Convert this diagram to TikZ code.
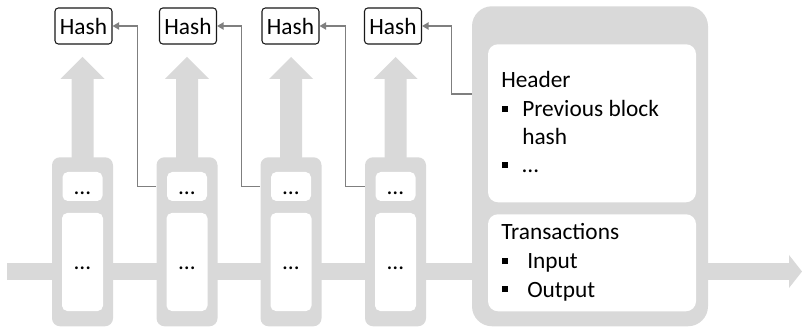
\documentclass[tikz,border=0pt]{standalone}
\usepackage{fontspec}
\setmainfont{Carlito}
\usetikzlibrary{arrows.meta}
\definecolor{blk}{HTML}{D9D9D9}
\definecolor{connc}{HTML}{7F7F7F}
\newcommand{\bul}{\rule[3.6pt]{4.5pt}{4.5pt}}
\begin{document}
\begin{tikzpicture}[x=0.75pt,y=-0.75pt,
  every node/.style={font=\fontsize{17.5}{21}\selectfont, inner sep=0pt},
  blockbox/.style={fill=blk, rounded corners=6pt, minimum width=45.75pt, minimum height=126.75pt, anchor=north},
  smallbox/.style={fill=white, rounded corners=4pt, minimum width=30pt, minimum height=21.75pt, text height=14pt, text depth=2pt},
  largebox/.style={fill=white, rounded corners=4pt, minimum width=30.75pt, minimum height=73.5pt, text height=14pt, text depth=2pt},
  hashbox/.style={draw=black!90, line width=0.8pt, rounded corners=2.5pt, minimum width=42.75pt, minimum height=27pt, fill=white},
  connl/.style={draw=connc, line width=1.1pt, -{Triangle[length=5pt,width=5.5pt]}},
  txt/.style={anchor=base west}
]
\useasboundingbox (0,0) rectangle (802,327);
% horizontal band
\fill[blk] (7,263) rectangle (790,280);
\fill[blk] (789,255) -- (802,271.5) -- (789,288) -- cycle;
% up arrows
\foreach \cx in {82.5,187,291,395.5}{
  \fill[blk] (\cx-11,158) -- (\cx-11,79) -- (\cx-22,79) -- (\cx,57) -- (\cx+22,79) -- (\cx+11,79) -- (\cx+11,158) -- cycle;
}
% blocks
\node[blockbox] (b1) at (82.5,157) {};
\node[blockbox] (b2) at (187,157) {};
\node[blockbox] (b3) at (291,157) {};
\node[blockbox] (b4) at (395.5,157) {};
\node[smallbox] (s1) at (82.5,186.5) {…};
\node[smallbox] (s2) at (187,186.5) {…};
\node[smallbox] (s3) at (291,186.5) {…};
\node[smallbox] (s4) at (395.5,186.5) {…};
\node[largebox] (l1) at (82.5,262) {…};
\node[largebox] (l2) at (187,262) {…};
\node[largebox] (l3) at (291,262) {…};
\node[largebox] (l4) at (395.5,262) {…};
% big block
\node[fill=blk, rounded corners=15pt, minimum width=177pt, minimum height=240pt, anchor=north] (big) at (590,6) {};
\node[fill=white, rounded corners=7.5pt, minimum width=156pt, minimum height=118.5pt, anchor=north] (hdrbox) at (592,44) {};
\node[fill=white, rounded corners=7.5pt, minimum width=156pt, minimum height=72.75pt, anchor=north] (trbox) at (592,214) {};
\node[txt] (t1) at (501,88) {Header};
\node[txt] (t2) at (502,117) {\makebox[15pt][l]{\bul}Previous block};
\node[txt] (t3) at (522,145) {hash};
\node[txt] (t4) at (502,173) {\makebox[15pt][l]{\bul}…};
\node[txt] (t5) at (501,240) {Transactions};
\node[txt] (t6) at (502,269) {\makebox[18.75pt][l]{\bul}Input};
\node[txt] (t7) at (502,297) {\makebox[18.75pt][l]{\bul}Output};
% hash boxes
\node[hashbox] (h1) at (83.5,26) {Hash};
\node[hashbox] (h2) at (188,26) {Hash};
\node[hashbox] (h3) at (290.5,26) {Hash};
\node[hashbox] (h4) at (393,26) {Hash};
% connectors
\coordinate (hy) at (0,94);
\draw[connl] (s2 -| b2.west) -- ++(-19,0) |- (h1.east);
\draw[connl] (s3 -| b3.west) -- ++(-19,0) |- (h2.east);
\draw[connl] (s4 -| b4.west) -- ++(-19,0) |- (h3.east);
\draw[connl] (hy -| big.west) -- ++(-20,0) |- (h4.east);
\end{tikzpicture}
\end{document}
